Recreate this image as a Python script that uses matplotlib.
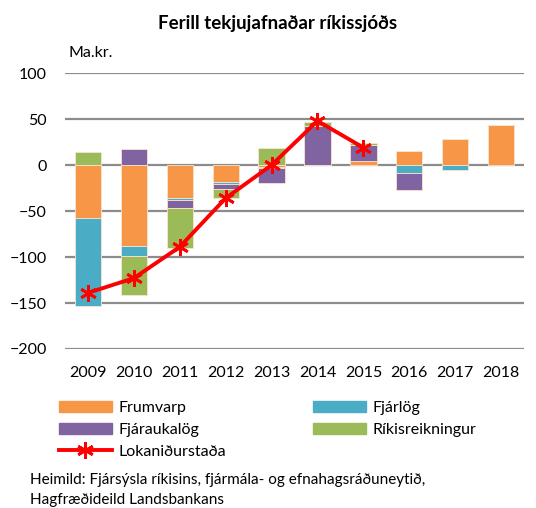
import numpy as np
import matplotlib.pyplot as plt
from matplotlib.patches import Patch
from matplotlib.lines import Line2D

years = ['2009', '2010', '2011', '2012', '2013', '2014', '2015', '2016', '2017', '2018']
frumvarp = [-57, -88, -36, -18, -2, 0, 4, 15, 28, 44]
fjarlog = [-96, -11, -2, -3, -1.5, 0, 0, -9, -5, 0]
fjaraukalog = [0, 17, -9, -5, -16, 43, 18, -18, 0, 0]
rikisreikningur = [14, -42, -43, -10, 19, 4, 2, 0, 0, 0]
lokanidurstada = [-139, -123, -89, -36, 0, 48, 19]

series = [('Frumvarp', frumvarp, '#F79646'),
          ('Fjárlög', fjarlog, '#4BACC6'),
          ('Fjáraukalög', fjaraukalog, '#8064A2'),
          ('Ríkisreikningur', rikisreikningur, '#9BBB59')]

plt.rcParams['font.family'] = ['Lato', 'DejaVu Sans']

fig = plt.figure(figsize=(5.36, 5.08), dpi=100)
ax = fig.add_axes([0.121, 0.313, 0.857, 0.543])

x = np.arange(len(years))
pos = np.zeros(len(years))
neg = np.zeros(len(years))
for name, vals, col in series:
    v = np.array(vals, dtype=float)
    bottom = np.where(v >= 0, pos, neg)
    ax.bar(x, v, 0.57, bottom=bottom, color=col, edgecolor='#fbe3cf', linewidth=0.6, zorder=2)
    pos = pos + np.where(v > 0, v, 0)
    neg = neg + np.where(v < 0, v, 0)

ax.plot(x[:len(lokanidurstada)], lokanidurstada, color='#FF0000', lw=2.8,
        marker=(6, 2, 0), ms=12, mew=2, zorder=3)

ax.set_xlim(-0.5, len(years) - 0.5)
ax.set_ylim(-200, 100)
ax.set_yticks(range(-200, 101, 50))
ax.set_xticks(x)
ax.set_xticklabels(years)
ax.grid(axis='y', color='#8c8c8c', lw=1.6, zorder=0)
ax.set_axisbelow(True)
for s in ax.spines.values():
    s.set_visible(False)
ax.tick_params(axis='both', length=0, labelsize=11.5, colors='black')
ax.tick_params(axis='y', pad=13)
ax.tick_params(axis='x', pad=12)

fig.text(0.517, 0.953, 'Ferill tekjujafnaðar ríkissjóðs', ha='center', va='center',
         fontsize=13.5, fontweight='bold')
fig.text(0.127, 0.896, 'Ma.kr.', ha='left', va='center', fontsize=11.5)

handles = [Patch(color='#F79646'), Patch(color='#8064A2'),
           Line2D([], [], color='#FF0000', lw=2.8, marker=(6, 2, 0), ms=12, mew=2),
           Patch(color='#4BACC6'), Patch(color='#9BBB59')]
labels = ['Frumvarp', 'Fjáraukalög', 'Lokaniðurstaða', 'Fjárlög', 'Ríkisreikningur']
fig.legend(handles, labels, ncol=2, loc='upper left', bbox_to_anchor=(0.095, 0.227),
           frameon=False, fontsize=11.5, handlelength=3.3, handleheight=0.7,
           columnspacing=5.5, labelspacing=0.48, handletextpad=0.4, borderpad=0)

fig.text(0.056, 0.055, 'Heimild: Fjársýsla ríkisins, fjármála- og efnahagsráðuneytið,',
         ha='left', va='center', fontsize=11)
fig.text(0.056, 0.016, 'Hagfræðideild Landsbankans', ha='left', va='center', fontsize=11)

fig.savefig('out.png', dpi=100)
